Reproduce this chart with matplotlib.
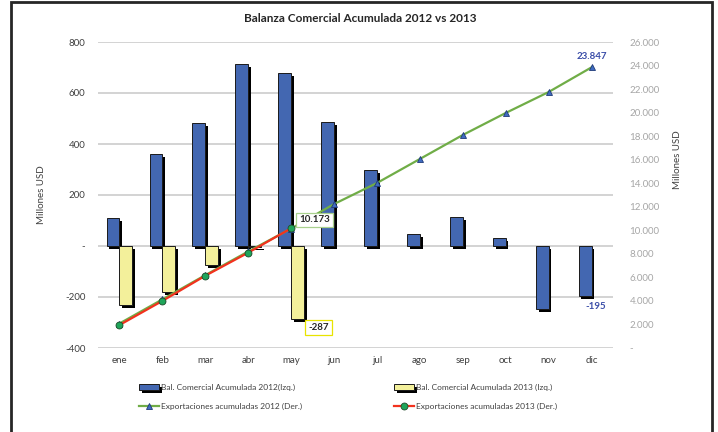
import matplotlib
matplotlib.use("Agg")
import matplotlib.pyplot as plt
import matplotlib.patheffects as pe
from matplotlib.patches import Rectangle
from matplotlib.ticker import FuncFormatter
import numpy as np

plt.rcParams["font.family"] = ["Lato", "DejaVu Sans"]

meses = ["ene", "feb", "mar", "abr", "may", "jun", "jul", "ago", "sep", "oct", "nov", "dic"]
bal_2012 = [110, 360, 482, 714, 678, 486, 298, 47, 114, 31, -247, -195]
bal_2013 = [-231, -180, -75, -5, -287]
exp_2012 = [2080, 4130, 6190, 8200, 10150, 12230, 14020, 16060, 18100, 19970, 21750, 23847]
exp_2013 = [1950, 4000, 6140, 8100, 10173]

azul = "#4367B1"
amarillo = "#F3F09B"
verde = "#70AD47"
rojo = "#F2321E"

fig = plt.figure(figsize=(7.18, 4.32), dpi=100)
ax = fig.add_axes([98 / 718, 84 / 432, 515 / 718, 306 / 432])
ax2 = ax.twinx()

x = np.arange(len(meses))
x13 = np.arange(len(bal_2013))
sombra = [pe.SimplePatchShadow(offset=(2, -2), shadow_rgbFace="black", alpha=1.0), pe.Normal()]

ax.set_xlim(-0.5, 11.5)
ax.set_ylim(-400, 800)
ax.set_yticks(range(-400, 801, 200))
ax2.set_ylim(0, 26000)
ax2.set_yticks(range(0, 26001, 2000))

# lineas de guia como franjas finas
for t in ax.get_yticks():
    ax.axhspan(t - 2.2, t + 2.2, color="#d4d4d4", lw=0, zorder=0.5)

b1 = ax.bar(x - 0.15, bal_2012, width=0.3, color=azul, edgecolor="#1a1a1a", linewidth=0.7,
            label="Bal. Comercial Acumulada 2012(Izq.)", zorder=3)
b2 = ax.bar(x13 + 0.15, bal_2013, width=0.3, color=amarillo, edgecolor="#1a1a1a", linewidth=0.7,
            label="Bal. Comercial Acumulada 2013 (Izq.)", zorder=3)
for r in list(b1) + list(b2):
    r.set_path_effects(sombra)

l1, = ax2.plot(x, exp_2012, color=verde, lw=1.6, marker="^", markersize=5,
               markerfacecolor="#3F6BC0", markeredgecolor="#1F3A78", markeredgewidth=0.6,
               label="Exportaciones acumuladas 2012 (Der.)")
l2, = ax2.plot(x13, exp_2013, color=rojo, lw=1.6, marker="o", markersize=5,
               markerfacecolor="#1FA55A", markeredgecolor="#1F4A2A", markeredgewidth=0.6,
               label="Exportaciones acumuladas 2013 (Der.)")

ax.yaxis.set_major_formatter(FuncFormatter(lambda v, p: "-" if v == 0 else f"{int(v)}"))
ax2.yaxis.set_major_formatter(FuncFormatter(lambda v, p: "-" if v == 0 else f"{int(v):,}".replace(",", ".")))

ax.set_xticks(x)
ax.set_xticklabels(meses)
for a in (ax, ax2):
    for s in a.spines.values():
        s.set_visible(False)
ax.tick_params(axis="both", length=0, labelsize=7, colors="#404040", pad=6)
ax.tick_params(axis="y", pad=9)
ax2.tick_params(axis="y", length=0, labelsize=7, colors="#a6a6a6", pad=12)

fig.text(42 / 718, 1 - 195 / 432, "Millones USD", rotation=90, fontsize=7, color="#404040",
         ha="center", va="center")
fig.text(678 / 718, 1 - 160 / 432, "Millones USD", rotation=90, fontsize=7, color="#404040",
         ha="center", va="center")
fig.text(360 / 718, 1 - 18 / 432, "Balanza Comercial Acumulada 2012 vs 2013", fontsize=8.5,
         fontweight="bold", color="#262626", ha="center", va="center")

ax2.annotate(f"{exp_2013[4]:,}".replace(",", "."), (4, exp_2013[4]), xytext=(17, 6),
             textcoords="offset points", ha="center", va="center", fontsize=7, fontweight="bold",
             color="#262626", bbox=dict(boxstyle="square,pad=0.3", fc="white", ec="#A9D18E", lw=0.9))
ax.annotate(f"{bal_2013[4]}", (4.15, bal_2013[4]), xytext=(15, -6),
            textcoords="offset points", ha="center", va="center", fontsize=7, fontweight="bold",
            color="#262626", bbox=dict(boxstyle="square,pad=0.3", fc="white", ec="#E8E400", lw=0.9))
ax2.annotate(f"{exp_2012[11]:,}".replace(",", "."), (11, exp_2012[11]), xytext=(0, 8),
             textcoords="offset points", ha="center", va="center", fontsize=7, fontweight="bold",
             color="#3A4DA8")
ax.annotate(f"{bal_2012[11]}", (10.85, bal_2012[11]), xytext=(8, -8),
            textcoords="offset points", ha="center", va="center", fontsize=7, fontweight="bold",
            color="#3A4DA8")

fig.legend([b1, l1, b2, l2], [b1.get_label(), l1.get_label(), b2.get_label(), l2.get_label()],
           ncol=2, loc="center", bbox_to_anchor=(348 / 718, 1 - 397 / 432), frameon=False,
           fontsize=6, columnspacing=11, handlelength=2.4, handletextpad=0.2, labelspacing=1.4,
           labelcolor="#404040")

fig.patches.append(Rectangle((11 / 718, -0.05), 701 / 718, 1.05 - 2 / 432, transform=fig.transFigure,
                             fill=False, ec="#262626", lw=2.0))

fig.savefig("out.png", dpi=100)
